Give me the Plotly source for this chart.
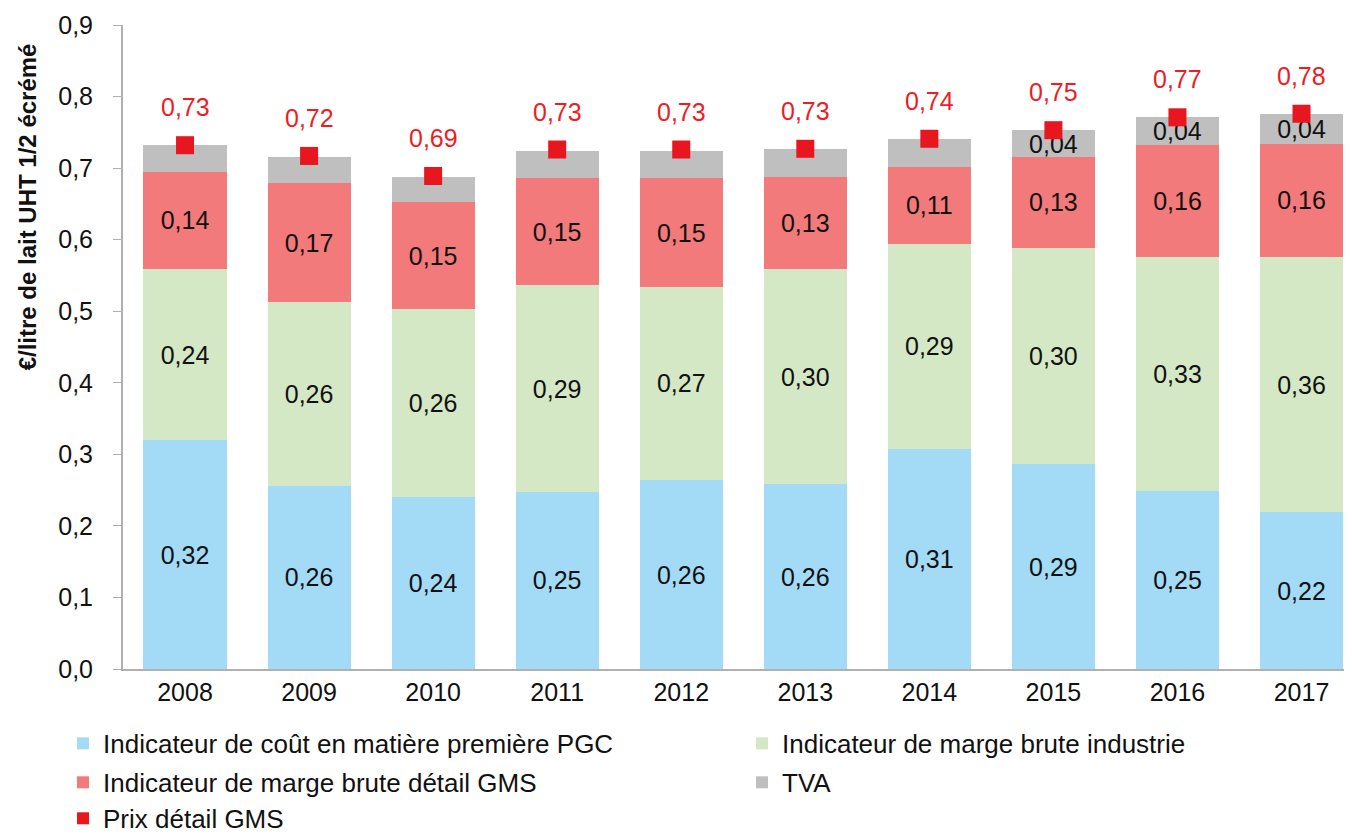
import plotly.graph_objects as go

years = ["2008", "2009", "2010", "2011", "2012", "2013", "2014", "2015", "2016", "2017"]
pgc = [0.320, 0.256, 0.241, 0.248, 0.264, 0.258, 0.308, 0.286, 0.249, 0.219]
marge_ind = [0.239, 0.257, 0.262, 0.288, 0.270, 0.301, 0.286, 0.303, 0.327, 0.357]
marge_gms = [0.136, 0.166, 0.149, 0.150, 0.152, 0.129, 0.108, 0.126, 0.156, 0.158]
tva = [0.037, 0.037, 0.036, 0.038, 0.038, 0.039, 0.039, 0.038, 0.040, 0.041]
tva_labels = ["", "", "", "", "", "", "", "0,04", "0,04", "0,04"]
prix = [0.732, 0.717, 0.689, 0.726, 0.726, 0.727, 0.741, 0.753, 0.771, 0.776]

names = [
    "Indicateur de coût en matière première PGC",
    "Indicateur de marge brute industrie",
    "Indicateur de marge brute détail GMS",
    "TVA",
    "Prix détail GMS",
]
colors = ["#a3dbf6", "#d4e8c5", "#f27a7a", "#bfbfbf", "#e8161e"]
legend_ids = ["legend", "legend2", "legend3", "legend4", "legend5"]

FONT = "Liberation Sans, Arial, sans-serif"
FS = 25
LFS = 26

# figure is placed by the page at an 8px body offset
W, H = 1344, 828
ML, MT, MB = 115, 17, 166.5
PLOT_W = W - ML
PLOT_H = H - MT - MB

def paper_y(py):
    return (MT + PLOT_H - py) / PLOT_H

def paper_x(px):
    return (px - ML) / PLOT_W

fig = go.Figure()
for vals, name, col, lg in zip([pgc, marge_ind, marge_gms], names[:3], colors[:3], legend_ids[:3]):
    fig.add_trace(go.Bar(
        x=years, y=vals, name=name, legend=lg, marker=dict(color=col, line=dict(width=0)),
        texttemplate="%{y:.2f}", textposition="inside", insidetextanchor="middle",
        textfont=dict(family=FONT, size=FS, color="#111111"), constraintext="none",
        hoverinfo="skip",
    ))
fig.add_trace(go.Bar(
    x=years, y=tva, name=names[3], legend=legend_ids[3],
    marker=dict(color=colors[3], line=dict(width=0)),
    text=tva_labels, textposition="inside", insidetextanchor="middle",
    textfont=dict(family=FONT, size=FS, color="#111111"), constraintext="none",
    hoverinfo="skip",
))
fig.add_trace(go.Scatter(
    x=years, y=prix, name=names[4], legend=legend_ids[4], mode="markers",
    marker=dict(symbol="square", size=18, color=colors[4]),
    hoverinfo="skip",
))

for i, p in enumerate(prix):
    fig.add_annotation(
        x=i, y=p, xref="x", yref="y", text=f"{p:.2f}".replace(".", ","), showarrow=False,
        yshift=38, font=dict(family=FONT, size=FS, color="#ee1c25"),
    )

fig.add_annotation(
    xref="paper", yref="paper", x=paper_x(19), y=paper_y(199.5),
    text="<b>€/litre de lait UHT 1/2 écrémé</b>",
    textangle=-90, showarrow=False, xanchor="center", yanchor="middle",
    font=dict(family=FONT, size=24, color="#111111"),
)

leg_common = dict(
    orientation="h", xanchor="left", yanchor="middle", bgcolor="rgba(0,0,0,0)",
    font=dict(family=FONT, size=LFS, color="#111111"), itemsizing="constant",
)
col_x = [paper_x(55), paper_x(734)]
row_y = [paper_y(736), paper_y(775), paper_y(811)]

fig.update_layout(
    width=W, height=H,
    margin=dict(l=ML, r=0, t=MT, b=MB, pad=0, autoexpand=False),
    barmode="stack", bargap=0.33,
    separators=", ",
    paper_bgcolor="white", plot_bgcolor="white",
    font=dict(family=FONT, size=FS, color="#111111"),
    showlegend=True,
    legend=dict(leg_common, x=col_x[0], y=row_y[0]),
    legend2=dict(leg_common, x=col_x[1], y=row_y[0]),
    legend3=dict(leg_common, x=col_x[0], y=row_y[1]),
    legend4=dict(leg_common, x=col_x[1], y=row_y[1]),
    legend5=dict(leg_common, x=col_x[0], y=row_y[2]),
)
fig.update_xaxes(
    type="category", range=[-0.5, 9.407], showline=True, linecolor="#b0b0b0", linewidth=2,
    ticks="", showgrid=False, automargin=False,
    tickfont=dict(family=FONT, size=FS, color="#111111"),
)
fig.update_yaxes(
    range=[0, 0.9], dtick=0.1, tick0=0, tickformat=".1f", showline=True,
    linecolor="#b0b0b0", linewidth=2, ticks="outside", ticklen=8, tickcolor="#b0b0b0",
    showgrid=False, zeroline=False, ticklabelstandoff=15, automargin=False,
    tickfont=dict(family=FONT, size=FS, color="#111111"),
)

fig.write_html("out.html")
